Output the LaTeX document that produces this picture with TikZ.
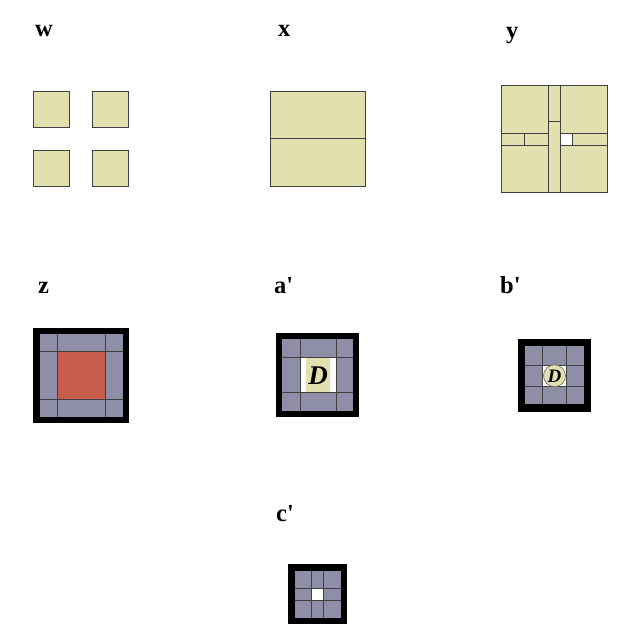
\documentclass[tikz,border=0pt]{standalone}
\usepackage{fontspec}
\setmainfont{Liberation Serif}
\usepackage{xcolor}
\usepackage{tikz}

\definecolor{tilefill}{RGB}{227,224,176}
\definecolor{cellgrey}{RGB}{142,143,166}
\definecolor{centrered}{RGB}{198,92,75}

\begin{document}
\begin{tikzpicture}[x=1pt, y=-1pt,
    lbl/.style={anchor=base west, inner sep=0pt, font=\bfseries\fontsize{24.5}{28}\selectfont},
    tile/.style={draw=black!75, line width=0.8pt, fill=tilefill},
    hole/.style={draw=black!75, line width=0.8pt, fill=white},
    blackframe/.style={fill=black},
    greycells/.style={fill=cellgrey},
    gridline/.style={draw=black!75, line width=0.8pt}]
    \useasboundingbox (0,0) rectangle (630,636);

    % labels
    \node[lbl] (lw) at (35,37) {w};
    \node[lbl] (lx) at (278,37) {x};
    \node[lbl] (ly) at (506,39) {y};
    \node[lbl] (lz) at (38,293) {z};
    \node[lbl] (la) at (274,293) {a\textquotesingle};
    \node[lbl] (lb) at (500,293) {b\textquotesingle};
    \node[lbl] (lc) at (276,521.5) {c\textquotesingle};

    % w: four separate tiles
    \draw[tile] (33.3,91) rectangle (69.3,127);
    \draw[tile] (92.7,91) rectangle (128.7,127);
    \draw[tile] (33.3,150) rectangle (69.3,186);
    \draw[tile] (92.7,150) rectangle (128.7,186);

    % x: two halves
    \draw[tile] (270,91) rectangle (365.7,138.7);
    \draw[tile] (270,138.7) rectangle (365.7,186);

    % y: pinwheel of strips
    \draw[tile] (501,85.7) rectangle (548.4,133.1);
    \draw[tile] (560.25,85.7) rectangle (607.65,133.1);
    \draw[tile] (501,144.95) rectangle (548.4,192.35);
    \draw[tile] (560.25,144.95) rectangle (607.65,192.35);
    \draw[tile] (548.4,85.7) rectangle (560.25,121.25);
    \draw[tile] (548.4,121.25) rectangle (560.25,192.35);
    \draw[tile] (501,133.1) rectangle (524.7,144.95);
    \draw[tile] (524.7,133.1) rectangle (548.4,144.95);
    \draw[hole] (560.25,133.1) rectangle (572.1,144.95);
    \draw[tile] (572.1,133.1) rectangle (607.65,144.95);

    % z: framed grid with red centre
    \fill[blackframe] (33.3,328.3) rectangle (129.3,423.3);
    \fill[greycells] (40,334.3) rectangle (122.7,416.7);
    \fill[centrered] (57.3,351.7) rectangle (105.3,399);
    \draw[gridline] (57.3,334.3) -- (57.3,416.7) (105.3,334.3) -- (105.3,416.7)
        (40,351.7) -- (122.7,351.7) (40,399) -- (122.7,399);

    % a': framed grid with D tile
    \fill[blackframe] (276,333.3) rectangle (359.3,416.7);
    \fill[greycells] (281.7,339.3) rectangle (353.3,410.7);
    \fill[white] (300,357.7) rectangle (336,392.7);
    \fill[tilefill] (306,357.7) rectangle (330,392.7);
    \draw[gridline] (300,339.3) -- (300,410.7) (336,339.3) -- (336,410.7)
        (281.7,357.7) -- (353.3,357.7) (281.7,392.7) -- (353.3,392.7);
    \node[inner sep=0pt, font=\bfseries\itshape\fontsize{27}{30}\selectfont] (dA) at (318,376) {D};

    % b': framed grid with D disc
    \fill[blackframe] (518.3,339) rectangle (590.7,411.7);
    \fill[greycells] (525,345.7) rectangle (584,404.3);
    \fill[white] (542.3,365) rectangle (566.7,386.7);
    \draw[gridline] (542.3,345.7) -- (542.3,404.3) (566.7,345.7) -- (566.7,404.3)
        (525,365) -- (584,365) (525,386.7) -- (584,386.7);
    \node[circle, draw=black!60, line width=0.6pt, fill=tilefill, minimum size=22pt, inner sep=0pt,
        font=\bfseries\itshape\fontsize{19}{22}\selectfont] (dB) at (554.5,375.8) {D};

    % c': framed grid with empty centre
    \fill[blackframe] (288.3,564.3) rectangle (347.3,624);
    \fill[greycells] (294.7,570.7) rectangle (341.3,618.3);
    \fill[white] (311.7,588.3) rectangle (323.3,600);
    \draw[gridline] (311.7,570.7) -- (311.7,618.3) (323.3,570.7) -- (323.3,618.3)
        (294.7,588.3) -- (341.3,588.3) (294.7,600) -- (341.3,600);
\end{tikzpicture}
\end{document}
